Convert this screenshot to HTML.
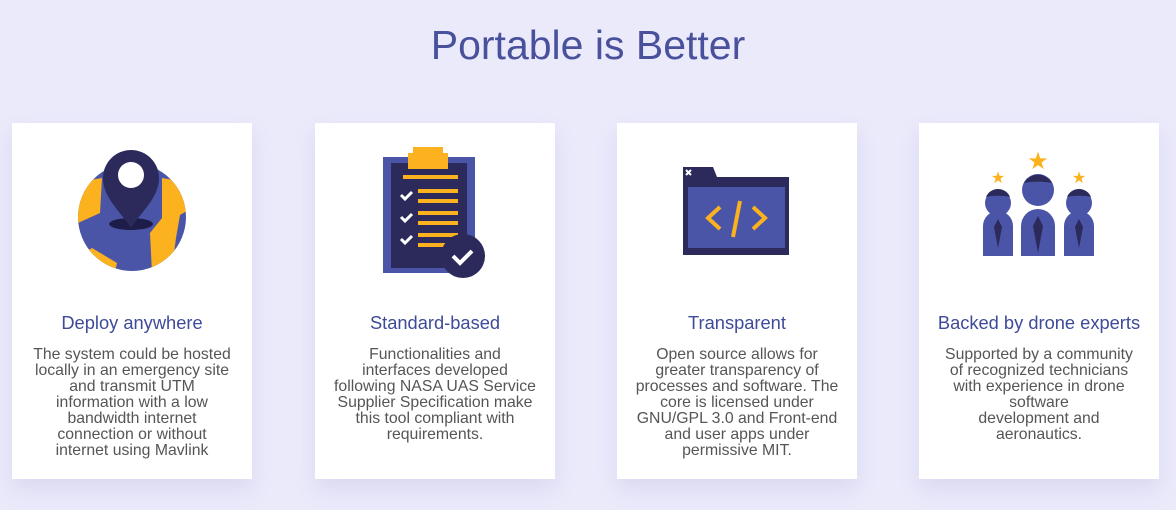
<!DOCTYPE html>
<html><head><meta charset="utf-8">
<style>
body{margin:0;width:1176px;height:510px;background:#ebeafb;font-family:"Liberation Sans",sans-serif;position:relative;overflow:hidden}
h1{position:absolute;left:0;width:1176px;top:22px;margin:0;text-align:center;font-weight:normal;font-size:41px;color:#4a519c}
.card{position:absolute;top:123px;width:240px;height:356px;background:#fff;box-shadow:0 10px 20px rgba(120,120,180,0.15)}
.card svg{position:absolute;left:0;top:0}
.card h3{position:absolute;top:189px;left:-10px;width:260px;margin:0;text-align:center;font-weight:normal;font-size:18.3px;color:#3e4b98}
.card p{position:absolute;top:224px;left:-10px;width:260px;margin:0;text-align:center;font-size:15.8px;line-height:16px;color:#555}
</style></head><body>
<h1>Portable is Better</h1>

<div class="card" style="left:12px">
<svg width="240" height="180">
<defs><clipPath id="g"><circle cx="120" cy="94" r="54"/></clipPath></defs>
<circle cx="120" cy="94" r="54" fill="#4b55a8"/>
<g clip-path="url(#g)" fill="#fbb21e">
<polygon points="60,60 90,55 88,90 66,100"/>
<polygon points="150,55 178,60 180,85 168,92 164,115 160,145 140,150 138,110 150,95"/>
<polygon points="80,125 105,140 98,170 68,160 64,135"/>
</g>
<ellipse cx="119" cy="101" rx="22" ry="6" fill="#1e1d4a"/>
<path d="M119,27 a28,28 0 0 1 28,28 c0,20 -18,34 -28,50 c-10,-16 -28,-30 -28,-50 a28,28 0 0 1 28,-28z" fill="#2b2a5a"/>
<circle cx="119" cy="52" r="13" fill="#fff"/>
</svg>
<h3>Deploy anywhere</h3>
<p>The system could be hosted<br>locally in an emergency site<br>and transmit UTM<br>information with a low<br>bandwidth internet<br>connection or without<br>internet using Mavlink</p>
</div>

<div class="card" style="left:315px">
<svg width="240" height="180">
<rect x="68" y="34" width="92" height="116" fill="#4b55a8"/>
<rect x="76" y="40" width="76" height="105" fill="#2b2a5a"/>
<rect x="93" y="30" width="40" height="16" fill="#fbb21e"/><rect x="98" y="24" width="30" height="8" fill="#fbb21e"/>
<g fill="#fbb21e"><rect x="88" y="52" width="55" height="4"/>
<rect x="103" y="66" width="40" height="4"/><rect x="103" y="76" width="40" height="4"/>
<rect x="103" y="88" width="40" height="4"/><rect x="103" y="98" width="40" height="4"/>
<rect x="103" y="110" width="40" height="4"/><rect x="103" y="120" width="30" height="4"/></g>
<g stroke="#fff" stroke-width="3" fill="none"><path d="M86,72 l4,4 l7,-7"/><path d="M86,94 l4,4 l7,-7"/><path d="M86,116 l4,4 l7,-7"/></g>
<circle cx="148" cy="133" r="22" fill="#2b2a5a"/>
<path d="M138,133 l7,7 l12,-12" stroke="#fff" stroke-width="4" fill="none"/>
</svg>
<h3>Standard-based</h3>
<p>Functionalities and<br>interfaces developed<br>following NASA UAS Service<br>Supplier Specification make<br>this tool compliant with<br>requirements.</p>
</div>

<div class="card" style="left:617px">
<svg width="240" height="180">
<path d="M66,44 h30 l4,10 h72 v78 h-106z" fill="#2b2a5a"/>
<rect x="71" y="64" width="97" height="61" fill="#4b55a8"/>
<path d="M69,47 l5,5 M74,47 l-5,5" stroke="#fff" stroke-width="2"/>
<g stroke="#fbb21e" stroke-width="4" fill="none"><path d="M103,84 l-12,11 l12,11"/><path d="M136,84 l12,11 l-12,11"/><path d="M123,78 l-7,36"/></g>
</svg>
<h3>Transparent</h3>
<p>Open source allows for<br>greater transparency of<br>processes and software. The<br>core is licensed under<br>GNU/GPL 3.0 and Front-end<br>and user apps under<br>permissive MIT.</p>
</div>

<div class="card" style="left:919px">
<svg width="240" height="180">
<g fill="#4b55a8">
<path d="M64,133 v-30 a15,15 0 0 1 30,0 v30z"/><path d="M102,133 v-30 a17,17 0 0 1 34,0 v30z"/><path d="M145,133 v-30 a15,15 0 0 1 30,0 v30z"/>
<circle cx="79" cy="80" r="13"/><circle cx="119" cy="67" r="16"/><circle cx="160" cy="80" r="13"/></g>
<g fill="#2b2a5a">
<path d="M67,74 a13,13 0 0 1 24,0 a20,6 0 0 0 -24,0z"/><path d="M105,60 a16,16 0 0 1 28,0 a24,7 0 0 0 -28,0z"/><path d="M148,74 a13,13 0 0 1 24,0 a20,6 0 0 0 -24,0z"/>
<polygon points="79,96 83,104 79,125 75,104"/><polygon points="119,93 124,103 119,130 114,103"/><polygon points="160,96 164,104 160,125 156,104"/></g>
<g fill="#fbb21e"><text x="79" y="60" font-size="16" text-anchor="middle">★</text><text x="119" y="46" font-size="24" text-anchor="middle">★</text><text x="160" y="60" font-size="16" text-anchor="middle">★</text></g>
</svg>
<h3>Backed by drone experts</h3>
<p>Supported by a community<br>of recognized technicians<br>with experience in drone<br>software<br>development and<br>aeronautics.</p>
</div>
</body></html>
